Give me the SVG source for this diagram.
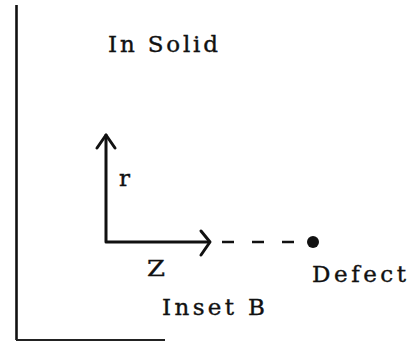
<svg xmlns="http://www.w3.org/2000/svg" width="418" height="342" viewBox="0 0 418 342">
<style>
.t{font-family:"DejaVu Serif","Liberation Serif",serif;font-size:23px;fill:#111;stroke:#111;stroke-width:0.4}
.ax{stroke:#111;stroke-width:3;fill:none;stroke-linecap:round;stroke-linejoin:round}
</style>
<rect width="418" height="342" fill="#fff"/>
<g id="frame">
<line x1="16.5" y1="5" x2="16.5" y2="340" stroke="#111" stroke-width="2.6"/>
<line x1="16" y1="340" x2="165" y2="340" stroke="#222" stroke-width="2"/>
</g>
<g id="title"><text class="t" x="108" y="52" textLength="110" lengthAdjust="spacing">In Solid</text></g>
<g id="connectors">
<polyline class="ax" points="106,135 106,242 209,242"/>
<polyline class="ax" points="97,148 106,135 115,148"/>
<polyline class="ax" points="201,231 210,242 201,255"/>
<line x1="222" y1="242" x2="297" y2="242" stroke="#111" stroke-width="2.5" stroke-dasharray="12 18"/>
</g>
<g id="r-axis"><text class="t" x="119" y="186">r</text></g>
<g id="z-axis"><text class="t" x="147" y="276" textLength="18" lengthAdjust="spacingAndGlyphs">Z</text></g>
<g id="defect">
<circle cx="313" cy="242" r="6" fill="#111"/>
<text class="t" x="312" y="282" textLength="94" lengthAdjust="spacing">Defect</text>
</g>
<g id="label"><text class="t" x="162" y="315" textLength="103" lengthAdjust="spacing">Inset B</text></g>
</svg>
